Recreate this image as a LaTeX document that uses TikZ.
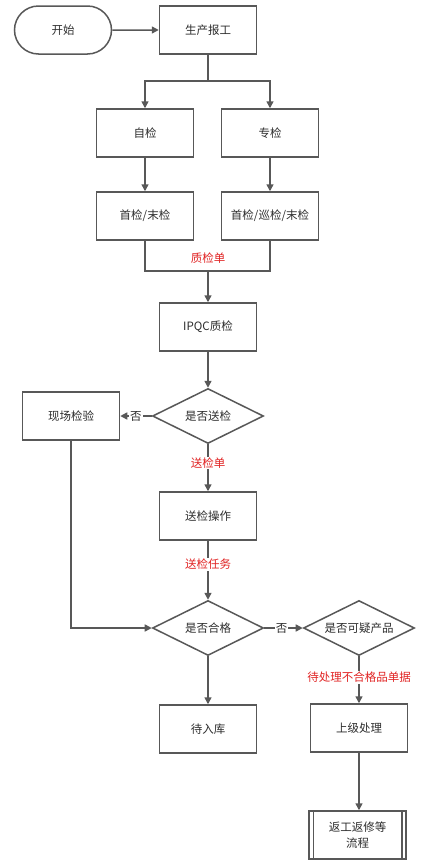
\documentclass[tikz,border=0pt]{standalone}
\usepackage{fontspec}
\setmainfont{Noto Sans CJK SC}
\usetikzlibrary{shapes.geometric,shapes.misc,arrows.meta}
\definecolor{ln}{RGB}{88,88,88}
\definecolor{tx}{RGB}{45,45,45}
\definecolor{lbl}{RGB}{225,35,35}
\begin{document}
\begin{tikzpicture}[x=1pt,y=-1pt,
  every node/.style={font=\fontsize{11.5}{16}\selectfont, text=tx},
  box/.style={draw=ln, line width=1.5pt, fill=white, minimum width=97pt, minimum height=48pt, inner sep=0pt, align=center},
  term/.style={rounded rectangle, draw=ln, line width=1.5pt, fill=white, minimum width=97pt, minimum height=48pt, inner sep=0pt},
  dec/.style={diamond, aspect=2, draw=ln, line width=1.5pt, fill=white, minimum width=111pt, minimum height=55pt, inner sep=0pt},
  conn/.style={draw=ln, line width=1.5pt},
  arr/.style={conn, -{Triangle[length=7pt,width=7pt]}},
  redlbl/.style={fill=white, inner sep=1pt, text=lbl},
  nolbl/.style={fill=white, inner sep=1pt}
]
\useasboundingbox (0,0) rectangle (439,865);
\fill[white] (0,0) rectangle (439,865);

\node[term] (start) at (63,30) {开始};
\node[box] (report) at (208,30) {生产报工};
\node[box] (self) at (145,133) {自检};
\node[box] (spec) at (270,133) {专检};
\node[box] (selfA) at (145,216) {首检/末检};
\node[box] (specA) at (270,216) {首检/巡检/末检};
\node[box] (ipqc) at (208,327) {IPQC质检};
\node[dec] (d1) at (208,416) {是否送检};
\node[box] (onsite) at (71,416) {现场检验};
\node[box] (sendop) at (208,516) {送检操作};
\node[dec] (d2) at (208,628) {是否合格};
\node[dec] (d3) at (359,628) {是否可疑产品};
\node[box] (store) at (208,729) {待入库};
\node[box] (upper) at (359,728) {上级处理};
\node[box] (rework) at (357.5,835) {返工返修等\\流程};
\draw[conn] ([xshift=5pt]rework.north west) -- ([xshift=5pt]rework.south west);
\draw[conn] ([xshift=-5pt]rework.north east) -- ([xshift=-5pt]rework.south east);

\coordinate (j1) at (208,81);
\coordinate (j2) at (208,271);

\draw[arr] (start) -- (report);
\draw[conn] (report) -- (j1);
\draw[arr] (j1) -| (self);
\draw[arr] (j1) -| (spec);
\draw[arr] (self) -- (selfA);
\draw[arr] (spec) -- (specA);
\draw[conn] (selfA) |- (j2) -| (specA);
\node[redlbl] (qlbl) at (208,258) {质检单};
\draw[arr] (j2) -- (ipqc);
\draw[arr] (ipqc) -- (d1);
\draw[arr] (d1) -- node[nolbl]{否} (onsite);
\draw[arr] (d1) -- node[redlbl, pos=0.4]{送检单} (sendop);
\draw[arr] (sendop) -- node[redlbl, pos=0.4]{送检任务} (d2);
\draw[arr] (onsite) |- (d2);
\draw[arr] (d2) -- node[nolbl, pos=0.45]{否} (d3);
\draw[arr] (d2) -- (store);
\draw[arr] (d3) -- node[redlbl, pos=0.45]{待处理不合格品单据} (upper);
\draw[arr] (upper) -- (upper.south |- rework.north);
\end{tikzpicture}
\end{document}
